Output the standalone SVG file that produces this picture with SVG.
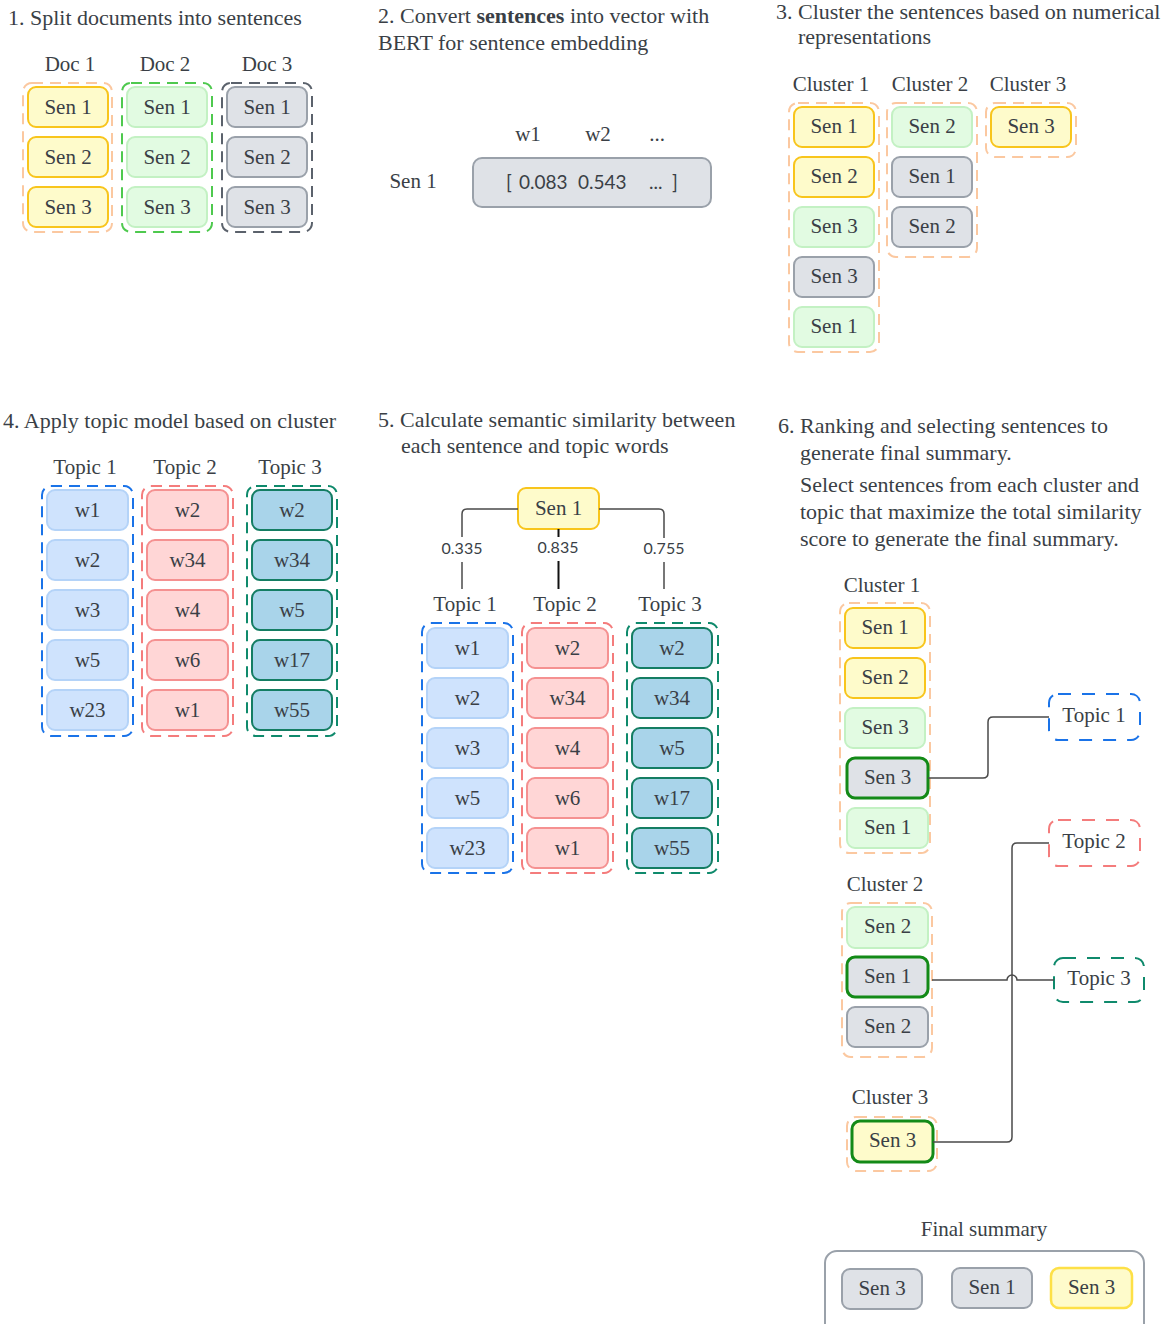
<svg xmlns="http://www.w3.org/2000/svg" width="1169" height="1324" viewBox="0 0 1169 1324">
<style>
text { font-family: "Liberation Serif", "Times New Roman", serif; fill: #3a3f46; }
.ti { font-size: 22px; }
.lb { font-size: 21px; text-anchor: middle; }
.bx { font-size: 21px; text-anchor: middle; }
.num { font-family: Lato, "Liberation Sans", sans-serif; font-size: 16px; text-anchor: middle; }
.vec { font-family: Lato, "Liberation Sans", sans-serif; font-size: 19px; }
.Y { fill: #fefbcb; stroke: #f8c51c; stroke-width: 2; }
.Y2 { fill: #fefbcb; stroke: #fde047; stroke-width: 2.5; }
.G { fill: #e2fbe2; stroke: #c3f1c3; stroke-width: 2; }
.K { fill: #dfe2e7; stroke: #9aa1aa; stroke-width: 2; }
.B { fill: #cfe3fd; stroke: #b4d3f8; stroke-width: 2; }
.R { fill: #ffd6d6; stroke: #f59191; stroke-width: 2; }
.T { fill: #a9d4ea; stroke: #147d63; stroke-width: 2; }
.selK { fill: #dfe2e7; stroke: #138a17; stroke-width: 3; }
.selY { fill: #fefbcb; stroke: #138a17; stroke-width: 3; }
.dO { fill: none; stroke: #fbc8a0; stroke-width: 2; stroke-dasharray: 11 7; }
.dG { fill: none; stroke: #4ec94e; stroke-width: 2; stroke-dasharray: 11 7; }
.dK { fill: none; stroke: #5b626c; stroke-width: 2; stroke-dasharray: 11 7; }
.dB { fill: none; stroke: #1a73e8; stroke-width: 2; stroke-dasharray: 11 7; }
.dR { fill: none; stroke: #f47c7c; stroke-width: 2; stroke-dasharray: 11 7; }
.dT { fill: none; stroke: #0f8a6c; stroke-width: 2; stroke-dasharray: 11 7; }
.tB { fill: #fff; stroke: #1a73e8; stroke-width: 2; stroke-dasharray: 13 11; }
.tR { fill: #fff; stroke: #f47c7c; stroke-width: 2; stroke-dasharray: 13 11; }
.tT { fill: #fff; stroke: #0f8a6c; stroke-width: 2; stroke-dasharray: 13 11; }
.ln { fill: none; stroke: #4a4a4a; stroke-width: 1.5; }
.lnb { fill: none; stroke: #111; stroke-width: 2; }
</style>
<rect width="1169" height="1324" fill="#ffffff"/>

<!-- Titles -->
<text class="ti" x="8" y="25">1. Split documents into sentences</text>
<text class="ti" x="378" y="23">2. Convert <tspan font-weight="bold">sentences</tspan> into vector with</text>
<text class="ti" x="378" y="50">BERT for sentence embedding</text>
<text class="ti" x="776" y="19">3. Cluster the sentences based on numerical</text>
<text class="ti" x="798" y="44">representations</text>
<text class="ti" x="3" y="428">4. Apply topic model based on cluster</text>
<text class="ti" x="378" y="427">5. Calculate semantic similarity between</text>
<text class="ti" x="401" y="453">each sentence and topic words</text>
<text class="ti" x="778" y="433">6. Ranking and selecting sentences to</text>
<text class="ti" x="800" y="460">generate final summary.</text>
<text class="ti" x="800" y="492">Select sentences from each cluster and</text>
<text class="ti" x="800" y="519">topic that maximize the total similarity</text>
<text class="ti" x="800" y="546">score to generate the final summary.</text>

<!-- Panel 1 -->
<g id="doc1">
<text class="lb" x="70" y="71">Doc 1</text>
<rect class="dO" x="23" y="83" width="89" height="149" rx="9"/>
<rect class="Y" x="28" y="87" width="80" height="40" rx="8"/><text class="bx" x="68" y="114">Sen 1</text>
<rect class="Y" x="28" y="137" width="80" height="40" rx="8"/><text class="bx" x="68" y="164">Sen 2</text>
<rect class="Y" x="28" y="187" width="80" height="40" rx="8"/><text class="bx" x="68" y="214">Sen 3</text>
</g>
<g id="doc2">
<text class="lb" x="165" y="71">Doc 2</text>
<rect class="dG" x="122" y="83" width="90" height="149" rx="9"/>
<rect class="G" x="127" y="87" width="80" height="40" rx="8"/><text class="bx" x="167" y="114">Sen 1</text>
<rect class="G" x="127" y="137" width="80" height="40" rx="8"/><text class="bx" x="167" y="164">Sen 2</text>
<rect class="G" x="127" y="187" width="80" height="40" rx="8"/><text class="bx" x="167" y="214">Sen 3</text>
</g>
<g id="doc3">
<text class="lb" x="267" y="71">Doc 3</text>
<rect class="dK" x="222" y="83" width="90" height="149" rx="9"/>
<rect class="K" x="227" y="87" width="80" height="40" rx="8"/><text class="bx" x="267" y="114">Sen 1</text>
<rect class="K" x="227" y="137" width="80" height="40" rx="8"/><text class="bx" x="267" y="164">Sen 2</text>
<rect class="K" x="227" y="187" width="80" height="40" rx="8"/><text class="bx" x="267" y="214">Sen 3</text>
</g>

<!-- Panel 2 -->
<g id="embedding">
<text class="lb" x="528" y="141">w1</text>
<text class="lb" x="598" y="141">w2</text>
<text class="lb" x="657" y="141">...</text>
<text class="lb" x="413" y="188">Sen 1</text>
<rect class="K" x="473" y="158" width="238" height="49" rx="9"/>
<text class="vec" y="189"><tspan x="506">[</tspan><tspan x="519">0.083</tspan><tspan x="578">0.543</tspan><tspan x="649">...</tspan><tspan x="672">]</tspan></text>
</g>

<!-- Panel 3 -->
<g id="p3cluster1">
<text class="lb" x="831" y="91">Cluster 1</text>
<rect class="dO" x="789" y="103" width="90" height="249" rx="9"/>
<rect class="Y" x="794" y="107" width="80" height="40" rx="8"/><text class="bx" x="834" y="133">Sen 1</text>
<rect class="Y" x="794" y="157" width="80" height="40" rx="8"/><text class="bx" x="834" y="183">Sen 2</text>
<rect class="G" x="794" y="207" width="80" height="40" rx="8"/><text class="bx" x="834" y="233">Sen 3</text>
<rect class="K" x="794" y="257" width="80" height="40" rx="8"/><text class="bx" x="834" y="283">Sen 3</text>
<rect class="G" x="794" y="307" width="80" height="40" rx="8"/><text class="bx" x="834" y="333">Sen 1</text>
</g>
<g id="p3cluster2">
<text class="lb" x="930" y="91">Cluster 2</text>
<rect class="dO" x="887" y="103" width="90" height="154" rx="9"/>
<rect class="G" x="892" y="107" width="80" height="40" rx="8"/><text class="bx" x="932" y="133">Sen 2</text>
<rect class="K" x="892" y="157" width="80" height="40" rx="8"/><text class="bx" x="932" y="183">Sen 1</text>
<rect class="K" x="892" y="207" width="80" height="40" rx="8"/><text class="bx" x="932" y="233">Sen 2</text>
</g>
<g id="p3cluster3">
<text class="lb" x="1028" y="91">Cluster 3</text>
<rect class="dO" x="986" y="103" width="90" height="54" rx="9"/>
<rect class="Y" x="991" y="107" width="80" height="40" rx="8"/><text class="bx" x="1031" y="133">Sen 3</text>
</g>

<!-- Panel 4 -->
<g id="p4topic1">
<text class="lb" x="85" y="474">Topic 1</text>
<rect class="dB" x="42" y="486" width="91" height="250" rx="9"/>
<rect class="B" x="47" y="490" width="81" height="40" rx="8"/><text class="bx" x="87.5" y="517">w1</text>
<rect class="B" x="47" y="540" width="81" height="40" rx="8"/><text class="bx" x="87.5" y="567">w2</text>
<rect class="B" x="47" y="590" width="81" height="40" rx="8"/><text class="bx" x="87.5" y="617">w3</text>
<rect class="B" x="47" y="640" width="81" height="40" rx="8"/><text class="bx" x="87.5" y="667">w5</text>
<rect class="B" x="47" y="690" width="81" height="40" rx="8"/><text class="bx" x="87.5" y="717">w23</text>
</g>
<g id="p4topic2">
<text class="lb" x="185" y="474">Topic 2</text>
<rect class="dR" x="142" y="486" width="91" height="250" rx="9"/>
<rect class="R" x="147" y="490" width="81" height="40" rx="8"/><text class="bx" x="187.5" y="517">w2</text>
<rect class="R" x="147" y="540" width="81" height="40" rx="8"/><text class="bx" x="187.5" y="567">w34</text>
<rect class="R" x="147" y="590" width="81" height="40" rx="8"/><text class="bx" x="187.5" y="617">w4</text>
<rect class="R" x="147" y="640" width="81" height="40" rx="8"/><text class="bx" x="187.5" y="667">w6</text>
<rect class="R" x="147" y="690" width="81" height="40" rx="8"/><text class="bx" x="187.5" y="717">w1</text>
</g>
<g id="p4topic3">
<text class="lb" x="290" y="474">Topic 3</text>
<rect class="dT" x="247" y="486" width="90" height="250" rx="9"/>
<rect class="T" x="252" y="490" width="80" height="40" rx="8"/><text class="bx" x="292" y="517">w2</text>
<rect class="T" x="252" y="540" width="80" height="40" rx="8"/><text class="bx" x="292" y="567">w34</text>
<rect class="T" x="252" y="590" width="80" height="40" rx="8"/><text class="bx" x="292" y="617">w5</text>
<rect class="T" x="252" y="640" width="80" height="40" rx="8"/><text class="bx" x="292" y="667">w17</text>
<rect class="T" x="252" y="690" width="80" height="40" rx="8"/><text class="bx" x="292" y="717">w55</text>
</g>

<!-- Panel 5 -->
<g id="p5sen1">
<rect class="Y" x="518" y="488" width="81" height="41" rx="8"/><text class="bx" x="558.5" y="515">Sen 1</text>
</g>
<g id="p5topic1">
<text class="lb" x="465" y="611">Topic 1</text>
<rect class="dB" x="422" y="623" width="91" height="250" rx="9"/>
<rect class="B" x="427" y="628" width="81" height="40" rx="8"/><text class="bx" x="467.5" y="655">w1</text>
<rect class="B" x="427" y="678" width="81" height="40" rx="8"/><text class="bx" x="467.5" y="705">w2</text>
<rect class="B" x="427" y="728" width="81" height="40" rx="8"/><text class="bx" x="467.5" y="755">w3</text>
<rect class="B" x="427" y="778" width="81" height="40" rx="8"/><text class="bx" x="467.5" y="805">w5</text>
<rect class="B" x="427" y="828" width="81" height="40" rx="8"/><text class="bx" x="467.5" y="855">w23</text>
</g>
<g id="p5topic2">
<text class="lb" x="565" y="611">Topic 2</text>
<rect class="dR" x="522" y="623" width="91" height="250" rx="9"/>
<rect class="R" x="527" y="628" width="81" height="40" rx="8"/><text class="bx" x="567.5" y="655">w2</text>
<rect class="R" x="527" y="678" width="81" height="40" rx="8"/><text class="bx" x="567.5" y="705">w34</text>
<rect class="R" x="527" y="728" width="81" height="40" rx="8"/><text class="bx" x="567.5" y="755">w4</text>
<rect class="R" x="527" y="778" width="81" height="40" rx="8"/><text class="bx" x="567.5" y="805">w6</text>
<rect class="R" x="527" y="828" width="81" height="40" rx="8"/><text class="bx" x="567.5" y="855">w1</text>
</g>
<g id="p5topic3">
<text class="lb" x="670" y="611">Topic 3</text>
<rect class="dT" x="627" y="623" width="91" height="250" rx="9"/>
<rect class="T" x="632" y="628" width="80" height="40" rx="8"/><text class="bx" x="672" y="655">w2</text>
<rect class="T" x="632" y="678" width="80" height="40" rx="8"/><text class="bx" x="672" y="705">w34</text>
<rect class="T" x="632" y="728" width="80" height="40" rx="8"/><text class="bx" x="672" y="755">w5</text>
<rect class="T" x="632" y="778" width="80" height="40" rx="8"/><text class="bx" x="672" y="805">w17</text>
<rect class="T" x="632" y="828" width="80" height="40" rx="8"/><text class="bx" x="672" y="855">w55</text>
</g>

<!-- Panel 6 -->
<g id="p6cluster1">
<text class="lb" x="882" y="592">Cluster 1</text>
<rect class="dO" x="840" y="603" width="90" height="250" rx="9"/>
<rect class="Y" x="845" y="608" width="80" height="40" rx="8"/><text class="bx" x="885" y="634">Sen 1</text>
<rect class="Y" x="845" y="658" width="80" height="40" rx="8"/><text class="bx" x="885" y="684">Sen 2</text>
<rect class="G" x="845" y="708" width="80" height="40" rx="8"/><text class="bx" x="885" y="734">Sen 3</text>
<rect class="selK" x="847" y="758" width="81" height="40" rx="8"/><text class="bx" x="887.5" y="784">Sen 3</text>
<rect class="G" x="847" y="808" width="81" height="40" rx="8"/><text class="bx" x="887.5" y="834">Sen 1</text>
</g>
<g id="p6cluster2">
<text class="lb" x="885" y="891">Cluster 2</text>
<rect class="dO" x="842" y="903" width="90" height="154" rx="9"/>
<rect class="G" x="847" y="907" width="81" height="41" rx="8"/><text class="bx" x="887.5" y="933">Sen 2</text>
<rect class="selK" x="847" y="957" width="81" height="40" rx="8"/><text class="bx" x="887.5" y="983">Sen 1</text>
<rect class="K" x="847" y="1007" width="81" height="40" rx="8"/><text class="bx" x="887.5" y="1033">Sen 2</text>
</g>
<g id="p6cluster3">
<text class="lb" x="890" y="1104">Cluster 3</text>
<rect class="dO" x="847" y="1117" width="90" height="54" rx="9"/>
<rect class="selY" x="852" y="1121" width="81" height="41" rx="8"/><text class="bx" x="892.5" y="1147">Sen 3</text>
</g>
<g id="p6topic1">
<rect class="tB" x="1049" y="694" width="91" height="46" rx="9"/><text class="bx" x="1094" y="722">Topic 1</text>
</g>
<g id="p6topic2">
<rect class="tR" x="1049" y="820" width="91" height="46" rx="9"/><text class="bx" x="1094" y="848">Topic 2</text>
</g>
<g id="p6topic3">
<rect class="tT" x="1054" y="958" width="90" height="44" rx="9"/><text class="bx" x="1099" y="985">Topic 3</text>
</g>
<g id="finalsummary">
<text class="lb" x="984" y="1236">Final summary</text>
<rect fill="#fff" stroke="#9aa1aa" stroke-width="2" x="825" y="1251" width="319" height="95" rx="12"/>
<rect class="K" x="842" y="1269" width="80" height="40" rx="8"/><text class="bx" x="882" y="1295">Sen 3</text>
<rect class="K" x="952" y="1268" width="80" height="40" rx="8"/><text class="bx" x="992" y="1294">Sen 1</text>
<rect class="Y2" x="1051" y="1268" width="81" height="40" rx="8"/><text class="bx" x="1091.5" y="1294">Sen 3</text>
</g>

<!-- Connectors -->
<g id="connectors">
<path class="ln" d="M518 509 H467 Q462 509 462 514 V537"/>
<path class="ln" d="M462 562 V589"/>
<path class="lnb" d="M558.5 529 V537"/>
<path class="lnb" d="M558.5 561 V589"/>
<path class="ln" d="M599 509 H659 Q664 509 664 514 V538"/>
<path class="ln" d="M664 562 V589"/>
<text class="num" x="462" y="554">0.335</text>
<text class="num" x="558" y="553">0.835</text>
<text class="num" x="664" y="554">0.755</text>
<path class="ln" d="M928 778 H983 Q988 778 988 773 V722 Q988 717 993 717 H1049"/>
<path class="ln" d="M1049 843 H1017 Q1012 843 1012 848 V1137 Q1012 1142 1007 1142 H933"/>
<path class="ln" d="M932 980 H1007 A5 5 0 0 1 1017 980 H1054"/>
</g>
</svg>
